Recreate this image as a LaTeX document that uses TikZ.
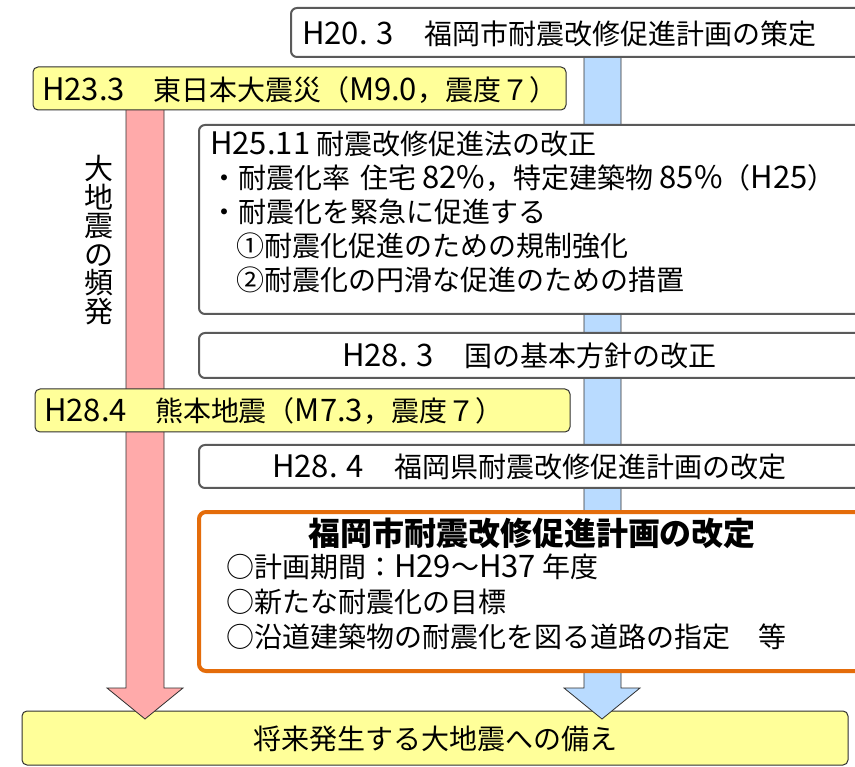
\documentclass[tikz,border=0pt]{standalone}
\usepackage{fontspec}
\setmainfont{Noto Sans CJK JP}
\newcommand{\latw}[1]{{\fontsize{31}{34}\selectfont #1}}
\definecolor{yfill}{HTML}{FFFF99}
\definecolor{pinkfill}{HTML}{FFAAAA}
\definecolor{bluefill}{HTML}{B9DBFF}
\definecolor{orangeline}{HTML}{E46C0A}
\definecolor{grayline}{HTML}{5A5A5A}
\definecolor{darkline}{HTML}{303030}
\tikzset{
  graybox/.style={draw=grayline,line width=2pt,fill=white,rounded corners=6pt},
  yellowbox/.style={draw=darkline,line width=1pt,fill=yfill,rounded corners=5pt},
  orangebox/.style={draw=orangeline,line width=4pt,fill=white,rounded corners=7pt},
  pinkarrow/.style={draw=darkline,line width=0.8pt,fill=pinkfill},
  bluearrow/.style={draw=darkline,line width=0.8pt,fill=bluefill},
  txt/.style={inner sep=0pt,font=\fontsize{28}{34}\selectfont},
}
\begin{document}
\begin{tikzpicture}[x=1pt,y=-1pt]
\clip (0,0) rectangle (855,767);
\fill[white] (0,0) rectangle (855,767);
% bottom box
\draw[yellowbox] (22,711) rectangle (848,765);
\node[txt,anchor=center] (goal) at (435,739) {将来発生する大地震への備え};
% arrows
\draw[pinkarrow] (126,100) -- (126,688) -- (107,688) -- (145,719) -- (183,688) -- (164,688) -- (164,100) -- cycle;
\draw[bluearrow] (584,50) -- (584,688) -- (564,688) -- (602,719) -- (640,688) -- (621,688) -- (621,50) -- cycle;
% H20.3
\draw[graybox] (291,8) rectangle (875,57);
\node[txt,anchor=west] (h20) at (302,34) {\latw{H20.\hspace{9pt}3}\hspace{30pt}福岡市耐震改修促進計画の策定};
% H23.3
\draw[yellowbox] (33,67) rectangle (566,110);
\node[txt,anchor=west] (h23) at (42,90) {\latw{H23.3}\hspace{28pt}東日本大震災（\latw{M9.0}，震度７）};
% vertical label
\node[txt,align=center,font=\fontsize{29}{28.5}\selectfont] (freq) at (99,240) {大\\地\\震\\の\\頻\\発};
% H25.11
\draw[graybox] (199,125) rectangle (875,314);
\node[txt,anchor=north west,align=left] (h25) at (210,131) {\latw{H25.11} 耐震改修促進法の改正\\
 ・耐震化率\hspace{10pt}住宅 \latw{82\%}，特定建築物 \latw{85\%}（\latw{H25}）\\
 ・耐震化を緊急に促進する\\
 \hspace{26pt}①耐震化促進のための規制強化\\
 \hspace{26pt}②耐震化の円滑な促進のための措置};
% H28.3
\draw[graybox] (199,333) rectangle (875,378);
\node[txt,anchor=west] (h283) at (342,356) {\latw{H28.\hspace{9pt}3}\hspace{30pt}国の基本方針の改正};
% H28.4 yellow
\draw[yellowbox] (35,389) rectangle (570,432);
\node[txt,anchor=west] (h284y) at (44,411) {\latw{H28.4}\hspace{28pt}熊本地震（\latw{M7.3}，震度７）};
% H28.4 gray
\draw[graybox] (199,445) rectangle (875,488);
\node[txt,anchor=west] (h284) at (272,467) {\latw{H28.\hspace{9pt}4}\hspace{30pt}福岡県耐震改修促進計画の改定};
% orange
\draw[orangebox] (199,512) rectangle (880,671);
\node[txt,font=\fontsize{32}{36}\bfseries] (plan) at (532,533) {福岡市耐震改修促進計画の改定};
\node[txt,anchor=west] (p1) at (226,567) {○計画期間：\latw{H29}～\latw{H37} 年度};
\node[txt,anchor=west] (p2) at (226,602) {○新たな耐震化の目標};
\node[txt,anchor=west] (p3) at (226,637) {○沿道建築物の耐震化を図る道路の指定　等};
\end{tikzpicture}
\end{document}
